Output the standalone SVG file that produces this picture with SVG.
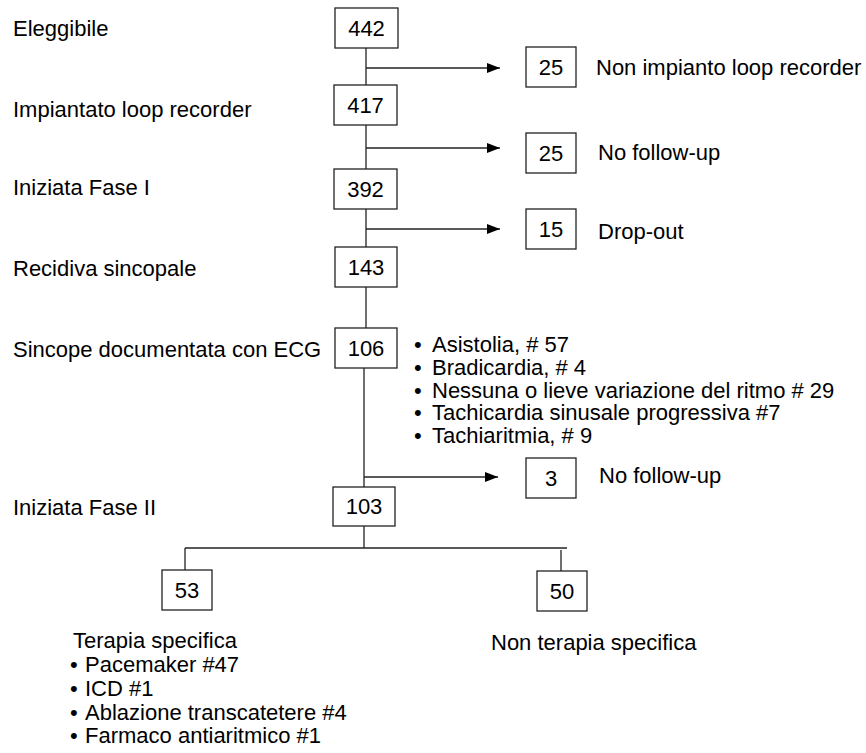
<svg xmlns="http://www.w3.org/2000/svg" width="866" height="753" viewBox="0 0 866 753">
<defs>
<marker id="ah" viewBox="0 0 13 10" refX="13" refY="5" markerWidth="13" markerHeight="10" markerUnits="userSpaceOnUse" orient="auto">
<path d="M0,0 L13,5 L0,10 Z" fill="#000"/>
</marker>
</defs>
<style>
text{font-family:"Liberation Sans",Arial,sans-serif;font-size:22px;fill:#000}
.box{fill:#fff;stroke:#222;stroke-width:1.3}
.num{text-anchor:middle}
.ln{stroke:#222;stroke-width:1.3;fill:none}
</style>
<rect width="866" height="753" fill="#fff"/>
<g id="connectors">
<line class="ln" x1="366" y1="48" x2="366" y2="85"/>
<line class="ln" x1="366" y1="125" x2="366" y2="169"/>
<line class="ln" x1="366" y1="209" x2="366" y2="247"/>
<line class="ln" x1="366" y1="287" x2="366" y2="328"/>
<line class="ln" x1="364" y1="368" x2="364" y2="487"/>
<line class="ln" x1="366" y1="68" x2="500" y2="68" marker-end="url(#ah)"/>
<line class="ln" x1="366" y1="148" x2="500" y2="148" marker-end="url(#ah)"/>
<line class="ln" x1="366" y1="229" x2="500" y2="229" marker-end="url(#ah)"/>
<line class="ln" x1="364" y1="477" x2="498" y2="477" marker-end="url(#ah)"/>
<line class="ln" x1="364" y1="526" x2="364" y2="548"/>
<line class="ln" x1="185" y1="548" x2="567" y2="548"/>
<line class="ln" x1="185" y1="548" x2="185" y2="570"/>
<line class="ln" x1="561" y1="550" x2="561" y2="571"/>
</g>
<g id="n442"><rect class="box" x="335" y="8" width="63" height="40"/><text class="num" x="366.5" y="36">442</text><text x="13" y="36">Eleggibile</text></g>
<g id="n417"><rect class="box" x="334" y="85" width="63" height="40"/><text class="num" x="365.5" y="113">417</text><text x="13" y="117">Impiantato loop recorder</text></g>
<g id="n392"><rect class="box" x="334" y="169" width="63" height="40"/><text class="num" x="365.5" y="197">392</text><text x="13" y="195">Iniziata Fase I</text></g>
<g id="n143"><rect class="box" x="335" y="247" width="62" height="40"/><text class="num" x="366" y="275">143</text><text x="13" y="276">Recidiva sincopale</text></g>
<g id="n106"><rect class="box" x="335" y="328" width="62" height="40"/><text class="num" x="366" y="356">106</text><text x="13" y="357">Sincope documentata con ECG</text></g>
<g id="n103"><rect class="box" x="333" y="487" width="62" height="39"/><text class="num" x="364" y="514">103</text><text x="13" y="515">Iniziata Fase II</text></g>
<g id="n25a"><rect class="box" x="526" y="47" width="50" height="40"/><text class="num" x="551" y="75">25</text><text x="596" y="75">Non impianto loop recorder</text></g>
<g id="n25b"><rect class="box" x="526" y="133" width="50" height="40"/><text class="num" x="551" y="161">25</text><text x="598" y="160">No follow-up</text></g>
<g id="n15"><rect class="box" x="526" y="209" width="50" height="40"/><text class="num" x="551" y="237">15</text><text x="598" y="239">Drop-out</text></g>
<g id="n3"><rect class="box" x="526" y="458" width="50" height="40"/><text class="num" x="551" y="486">3</text><text x="599" y="483">No follow-up</text></g>
<g id="ecg-list">
<text><tspan x="414" y="352">•</tspan><tspan x="432" y="352">Asistolia, # 57</tspan><tspan x="414" y="375">•</tspan><tspan x="432" y="375">Bradicardia, # 4</tspan><tspan x="414" y="398">•</tspan><tspan x="432" y="398">Nessuna o lieve variazione del ritmo # 29</tspan><tspan x="414" y="420">•</tspan><tspan x="432" y="420">Tachicardia sinusale progressiva #7</tspan><tspan x="414" y="443">•</tspan><tspan x="432" y="443">Tachiaritmia, # 9</tspan></text>
</g>
<g id="n53"><rect class="box" x="162" y="570" width="50" height="40"/><text class="num" x="187" y="598">53</text>
<text><tspan x="73" y="648">Terapia specifica</tspan><tspan x="70" y="672">•</tspan><tspan x="85" y="672">Pacemaker #47</tspan><tspan x="70" y="696">•</tspan><tspan x="85" y="696">ICD #1</tspan><tspan x="70" y="720">•</tspan><tspan x="85" y="720">Ablazione transcatetere #4</tspan><tspan x="70" y="743">•</tspan><tspan x="85" y="743">Farmaco antiaritmico #1</tspan></text>
</g>
<g id="n50"><rect class="box" x="537" y="571" width="50" height="40"/><text class="num" x="562" y="599">50</text><text x="491" y="650">Non terapia specifica</text></g>
</svg>
